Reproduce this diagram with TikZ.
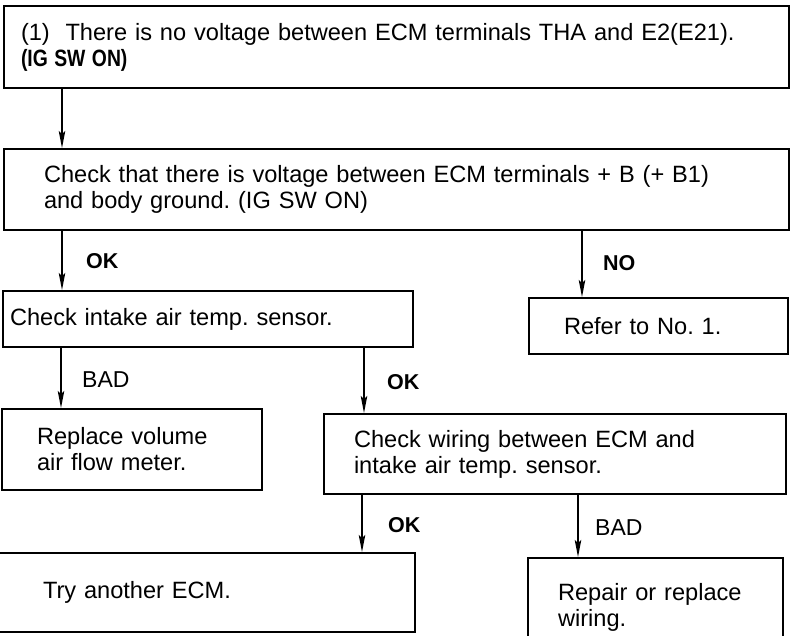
\documentclass[tikz,border=0pt]{standalone}
\usepackage{fontspec}
\usepackage{graphicx}
\setmainfont{Liberation Sans}
\usetikzlibrary{arrows.meta}
\frenchspacing
\newcommand\bodyfnt{\fontsize{23.6}{26}\selectfont}
\newcommand\lblfnt{\fontsize{21.5}{24}\selectfont\bfseries}
\newcommand\badfnt{\fontsize{23}{26}\selectfont}
\begin{document}
\begin{tikzpicture}[x=1pt,y=-1pt,
  box/.style={draw, line width=2pt, rectangle, anchor=north west, align=left,
              inner ysep=0pt, font=\bodyfnt},
  arr/.style={line width=1.3pt, -{Stealth[length=17pt,width=6.5pt,inset=3pt]}},
  lbl/.style={anchor=west, inner sep=0pt, font=\lblfnt},
  lblbad/.style={anchor=west, inner sep=0pt, font=\badfnt}]
\useasboundingbox[fill=white] (0,0) rectangle (801,635);

% boxes
\node[box, inner xsep=17pt, text width=751pt, minimum height=82pt] (b1) at (3,5)
  {(1)\ \ There is no voltage between ECM terminals THA and E2(E21).\\
   \scalebox{0.82}[1]{\bfseries (IG SW ON)}};
\node[box, inner xsep=40pt, text width=705pt, minimum height=81pt] (b2) at (3,148)
  {Check that there is voltage between ECM terminals + B (+ B1)\\
   and body ground. (IG SW ON)};
\node[box, inner xsep=7pt, text width=396pt, minimum height=56pt] (b3) at (2,290)
  {Check intake air temp. sensor.};
\node[box, inner xsep=35pt, text width=189pt, minimum height=56pt] (b4) at (528,297)
  {Refer to No. 1.};
\node[box, inner xsep=35pt, text width=190pt, minimum height=81pt] (b5) at (1,408)
  {Replace volume\\ air flow meter.};
\node[box, inner xsep=30pt, text width=402pt, minimum height=80pt] (b6) at (323,413)
  {Check wiring between ECM and\\ intake air temp. sensor.};
\node[box, inner xsep=52pt, text width=320pt, minimum height=79pt] (b7) at (-10,552)
  {Try another ECM.};
\node[box, inner xsep=30pt, text width=195pt, minimum height=98pt] (b8) at (527,557)
  {Repair or replace\\ wiring.};

% x positions of connectors
\coordinate (xa) at (62,0);
\coordinate (xb) at (582,0);
\coordinate (xc) at (61,0);
\coordinate (xd) at (364,0);
\coordinate (xe) at (362,0);
\coordinate (xf) at (578,0);

\draw[arr] (b1.south -| xa) -- (b2.north -| xa);
\draw[arr] (b2.south -| xa) -- (b3.north -| xa);
\draw[arr] (b2.south -| xb) -- (b4.north -| xb);
\draw[arr] (b3.south -| xc) -- (b5.north -| xc);
\draw[arr] (b3.south -| xd) -- (b6.north -| xd);
\draw[arr] (b6.south -| xe) -- (b7.north -| xe);
\draw[arr] (b6.south -| xf) -- (b8.north -| xf);

% labels
\node[lbl] (l1) at (86,261) {OK};
\node[lbl] (l2) at (603,263) {NO};
\node[lblbad] (l3) at (82,380) {BAD};
\node[lbl] (l4) at (387,382) {OK};
\node[lbl] (l5) at (388,525) {OK};
\node[lblbad] (l6) at (595,528) {BAD};
\end{tikzpicture}
\end{document}
